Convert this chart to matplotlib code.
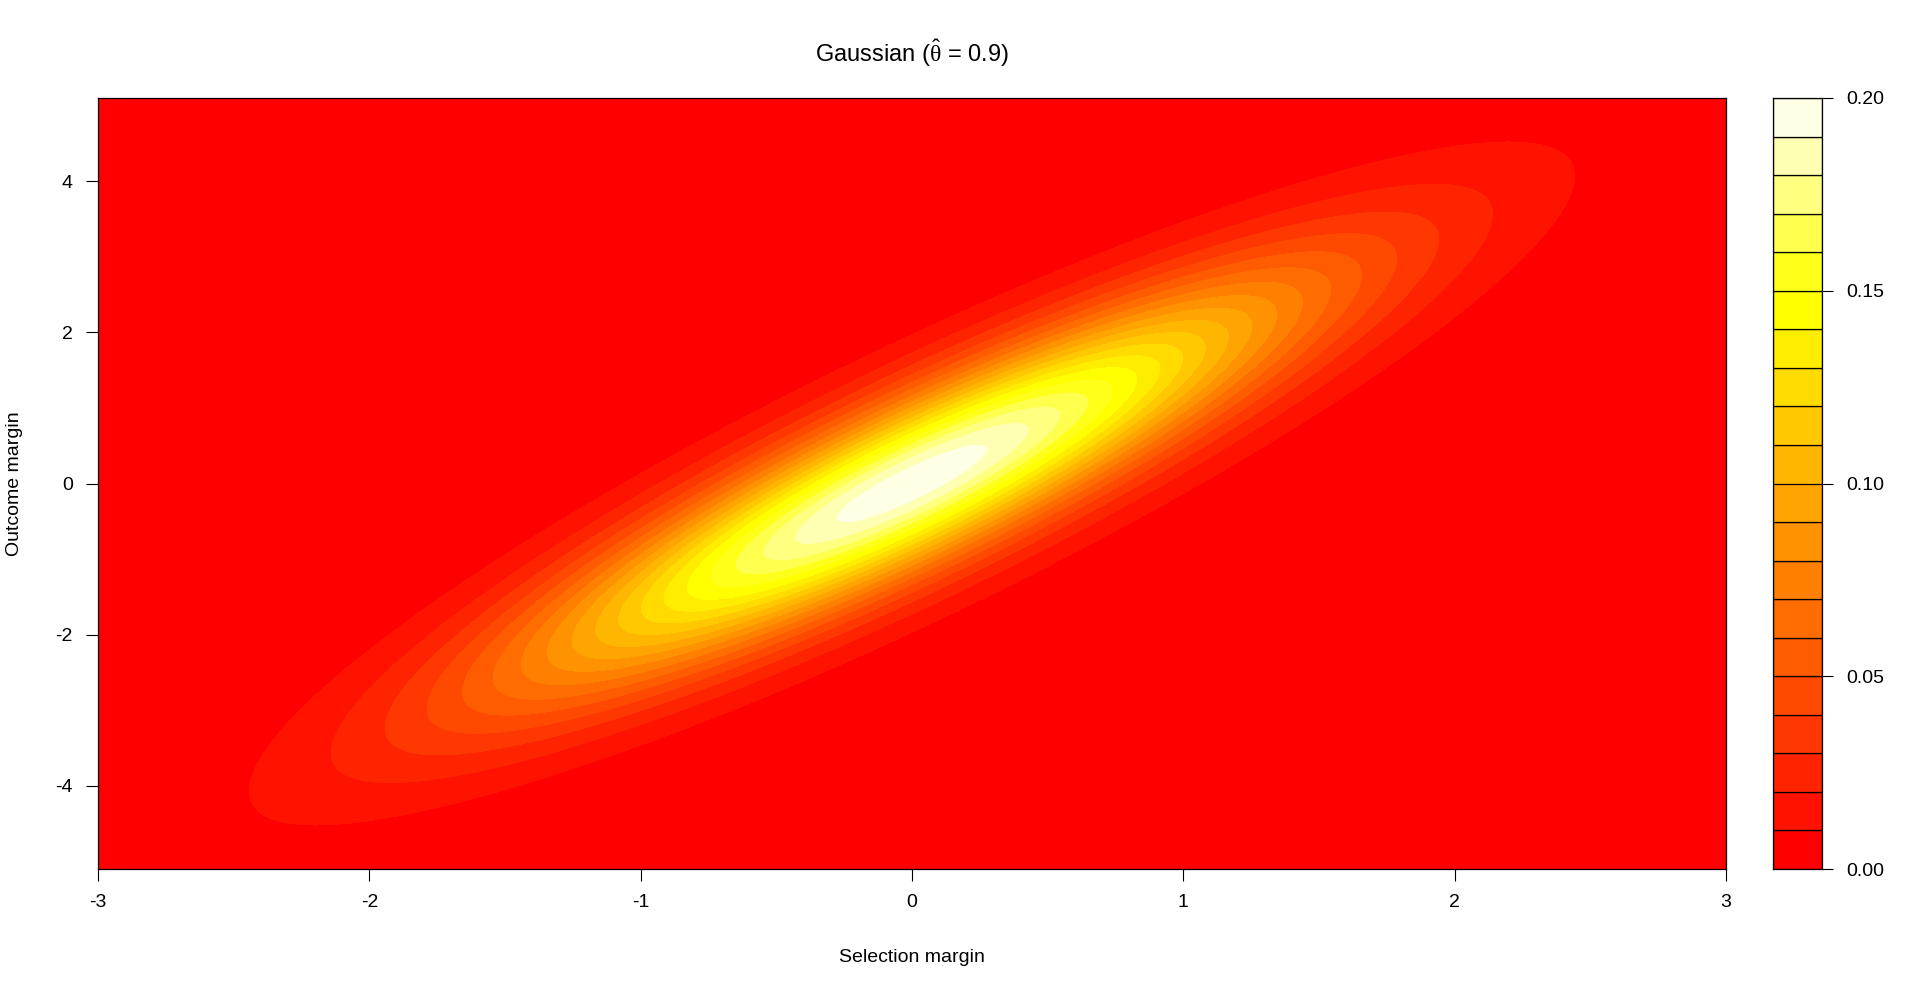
import colorsys
import numpy as np
import matplotlib
matplotlib.use("Agg")
import matplotlib.pyplot as plt

plt.rcParams["font.family"] = ["Liberation Sans", "DejaVu Sans"]
plt.rcParams["axes.unicode_minus"] = False
plt.rcParams["mathtext.fontset"] = "custom"
plt.rcParams["mathtext.rm"] = "Liberation Serif"
plt.rcParams["mathtext.it"] = "Liberation Serif"

# fitted copula: selection margin ~ N(0, 1), outcome margin ~ N(0, 1.85), theta = 0.9
theta = 0.9
sigma_sel = 1.0
sigma_out = 1.85
x_range = [-3.0, 3.0]
y_range = [-5.1, 5.1]
n_grid = 250

levels = np.round(np.arange(0, 0.2001, 0.01), 2)
x_ticks = [-3, -2, -1, 0, 1, 2, 3]
y_ticks = [-4, -2, 0, 2, 4]
cbar_ticks = [0.00, 0.05, 0.10, 0.15, 0.20]


def heat_colors(n):
    # same as R's heat.colors(n)
    j = n // 4
    i = n - j
    cols = []
    for h in np.linspace(0, 1 / 6, i):
        cols.append(colorsys.hsv_to_rgb(h, 1, 1))
    for s in np.linspace(1 - 1 / (2 * j), 1 / (2 * j), j):
        cols.append(colorsys.hsv_to_rgb(1 / 6, s, 1))
    return cols


x = np.linspace(x_range[0], x_range[1], n_grid)
y = np.linspace(y_range[0], y_range[1], n_grid)
X, Y = np.meshgrid(x, y)
u = X / sigma_sel
v = Y / sigma_out
q = (u ** 2 - 2 * theta * u * v + v ** 2) / (1 - theta ** 2)
Z = np.exp(-q / 2) / (2 * np.pi * sigma_sel * sigma_out * np.sqrt(1 - theta ** 2))

colors = heat_colors(len(levels) - 1)

W, H = 1920, 992
fig = plt.figure(figsize=(W / 100, H / 100), dpi=100)

# pixel boxes
px_left, px_right, px_top, px_bottom = 98, 1726, 98, 869
cb_left, cb_right = 1773, 1822

ax = fig.add_axes([px_left / W, 1 - px_bottom / H, (px_right - px_left) / W, (px_bottom - px_top) / H])
ax.contourf(X, Y, Z, levels=levels, colors=colors, antialiased=False)
ax.set_xlim(x_range)
ax.set_ylim(y_range)
ax.set_xticks(x_ticks)
ax.set_yticks(y_ticks)
ax.tick_params(direction="out", length=8.6, width=0.8, pad=9.4, labelsize=14, colors="black")
for sp in ax.spines.values():
    sp.set_linewidth(0.9)
    sp.set_color("black")

cax = fig.add_axes([cb_left / W, 1 - px_bottom / H, (cb_right - cb_left) / W, (px_bottom - px_top) / H])
cax.bar(0, np.diff(levels), bottom=levels[:-1], width=1, align="edge",
        color=colors, edgecolor="black", linewidth=0.9)
cax.set_xlim(0, 1)
cax.set_ylim(levels[0], levels[-1])
cax.set_xticks([])
cax.yaxis.tick_right()
cax.set_yticks(cbar_ticks)
cax.set_yticklabels([f"{t:.2f}" for t in cbar_ticks])
cax.tick_params(direction="out", length=8, width=0.8, pad=9.4, labelsize=14)
for sp in cax.spines.values():
    sp.set_linewidth(0.9)

cx = (px_left + px_right) / 2 / W
cy = (px_top + px_bottom) / 2 / H
fig.text(cx, 1 - 62 / H, r"Gaussian ($\hat{\theta}$ = 0.9)", ha="center", va="baseline", fontsize=17)
fig.text(cx, 1 - 962 / H, "Selection margin", ha="center", va="baseline", fontsize=14)
fig.text(15 / W, 1 - cy, "Outcome margin", ha="center", va="center", rotation=90, fontsize=14)

fig.savefig("out.png", dpi=100)
